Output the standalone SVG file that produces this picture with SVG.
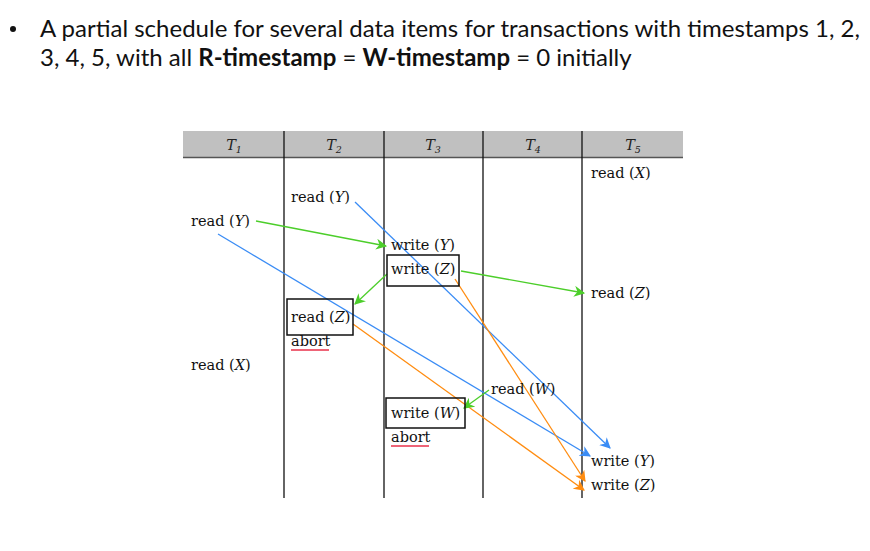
<svg xmlns="http://www.w3.org/2000/svg" width="870" height="551" viewBox="0 0 870 551">
  <style>
    .title { font-family: Lato, "Liberation Sans", sans-serif; font-size: 24px; fill: #111; }
    .op { font-family: "DejaVu Serif", "Liberation Serif", serif; font-size: 14.5px; fill: #111; }
    .hd { font-family: "DejaVu Serif", "Liberation Serif", serif; font-size: 14.5px; font-style: italic; fill: #222; }
    .sub { font-size: 9.5px; }
    .col { stroke: #111; stroke-width: 1.3; }
    .box { fill: none; stroke: #111; stroke-width: 1.5; }
    .g { stroke: #4cce2a; stroke-width: 1.3; fill: none; marker-end: url(#ag); }
    .b { stroke: #3a8cf5; stroke-width: 1.3; fill: none; marker-end: url(#ab); }
    .o { stroke: #ff8c10; stroke-width: 1.3; fill: none; marker-end: url(#ao); }
    .ul { stroke: #e8304a; stroke-width: 1.3; }
  </style>
  <defs>
    <marker id="ag" viewBox="0 0 10 10" refX="9" refY="5" markerWidth="11" markerHeight="11" markerUnits="userSpaceOnUse" orient="auto">
      <path d="M0,0 L10,5 L0,10 L3,5 Z" fill="#4cce2a"/>
    </marker>
    <marker id="ab" viewBox="0 0 10 10" refX="9" refY="5" markerWidth="11" markerHeight="11" markerUnits="userSpaceOnUse" orient="auto">
      <path d="M0,0 L10,5 L0,10 L3,5 Z" fill="#3a8cf5"/>
    </marker>
    <marker id="ao" viewBox="0 0 10 10" refX="9" refY="5" markerWidth="11" markerHeight="11" markerUnits="userSpaceOnUse" orient="auto">
      <path d="M0,0 L10,5 L0,10 L3,5 Z" fill="#ff8c10"/>
    </marker>
  </defs>
  <rect width="870" height="551" fill="#fff"/>

  <!-- heading -->
  <g id="heading">
    <circle cx="13" cy="29" r="3" fill="#111"/>
    <text class="title" x="40" y="37">A partial schedule for several data items for transactions with timestamps 1, 2,</text>
    <text class="title" x="40" y="66">3, 4, 5, with all <tspan font-weight="bold">R-timestamp</tspan> = <tspan font-weight="bold">W-timestamp</tspan> = 0 initially</text>
  </g>

  <!-- table frame -->
  <g id="table">
    <rect x="183" y="131" width="500" height="26" fill="#c0c0c0"/>
    <line x1="183" y1="157.5" x2="683" y2="157.5" stroke="#555" stroke-width="1.5"/>
    <line class="col" x1="284" y1="131" x2="284" y2="498"/>
    <line class="col" x1="384" y1="131" x2="384" y2="498"/>
    <line class="col" x1="483" y1="131" x2="483" y2="498"/>
    <line class="col" x1="582" y1="131" x2="582" y2="498"/>
    <text class="hd" x="234" y="150" text-anchor="middle">T<tspan class="sub" dy="3">1</tspan></text>
    <text class="hd" x="334" y="150" text-anchor="middle">T<tspan class="sub" dy="3">2</tspan></text>
    <text class="hd" x="433" y="150" text-anchor="middle">T<tspan class="sub" dy="3">3</tspan></text>
    <text class="hd" x="533" y="150" text-anchor="middle">T<tspan class="sub" dy="3">4</tspan></text>
    <text class="hd" x="633" y="150" text-anchor="middle">T<tspan class="sub" dy="3">5</tspan></text>
  </g>

  <!-- connectors -->
  <g id="connectors">
    <line class="g" x1="256" y1="221" x2="386" y2="246"/>
    <line class="b" x1="355" y1="202" x2="610" y2="448"/>
    <line class="b" x1="218" y1="234" x2="590" y2="456"/>
    <line class="g" x1="387" y1="274" x2="355" y2="304"/>
    <line class="g" x1="461" y1="271" x2="584" y2="293"/>
    <line class="o" x1="455" y1="279" x2="585" y2="481"/>
    <line class="o" x1="353" y1="324" x2="584" y2="490"/>
    <line class="g" x1="489" y1="390" x2="464" y2="408"/>
  </g>

  <!-- T1 operations -->
  <g id="t1-read-y"><text class="op" x="191" y="226">read (<tspan font-style="italic">Y</tspan>)</text></g>
  <g id="t1-read-x"><text class="op" x="191" y="370">read (<tspan font-style="italic">X</tspan>)</text></g>

  <!-- T2 operations -->
  <g id="t2-read-y"><text class="op" x="291" y="202">read (<tspan font-style="italic">Y</tspan>)</text></g>
  <g id="t2-read-z">
    <rect class="box" x="287" y="299" width="66" height="36"/>
    <text class="op" x="291" y="322">read (<tspan font-style="italic">Z</tspan>)</text>
  </g>
  <g id="t2-abort">
    <text class="op" x="291" y="346">abort</text>
    <line class="ul" x1="291" y1="350" x2="329" y2="350"/>
  </g>

  <!-- T3 operations -->
  <g id="t3-write-y"><text class="op" x="391" y="250">write (<tspan font-style="italic">Y</tspan>)</text></g>
  <g id="t3-write-z">
    <rect class="box" x="387" y="255" width="72" height="31"/>
    <text class="op" x="391" y="274">write (<tspan font-style="italic">Z</tspan>)</text>
  </g>
  <g id="t3-write-w">
    <rect class="box" x="386" y="398" width="79" height="30"/>
    <text class="op" x="391" y="418">write (<tspan font-style="italic">W</tspan>)</text>
  </g>
  <g id="t3-abort">
    <text class="op" x="391" y="442">abort</text>
    <line class="ul" x1="391" y1="446" x2="429" y2="446"/>
  </g>

  <!-- T4 operations -->
  <g id="t4-read-w"><text class="op" x="491" y="394">read (<tspan font-style="italic">W</tspan>)</text></g>

  <!-- T5 operations -->
  <g id="t5-read-x"><text class="op" x="591" y="178">read (<tspan font-style="italic">X</tspan>)</text></g>
  <g id="t5-read-z"><text class="op" x="591" y="298">read (<tspan font-style="italic">Z</tspan>)</text></g>
  <g id="t5-write-y"><text class="op" x="591" y="466">write (<tspan font-style="italic">Y</tspan>)</text></g>
  <g id="t5-write-z"><text class="op" x="591" y="490">write (<tspan font-style="italic">Z</tspan>)</text></g>
</svg>
